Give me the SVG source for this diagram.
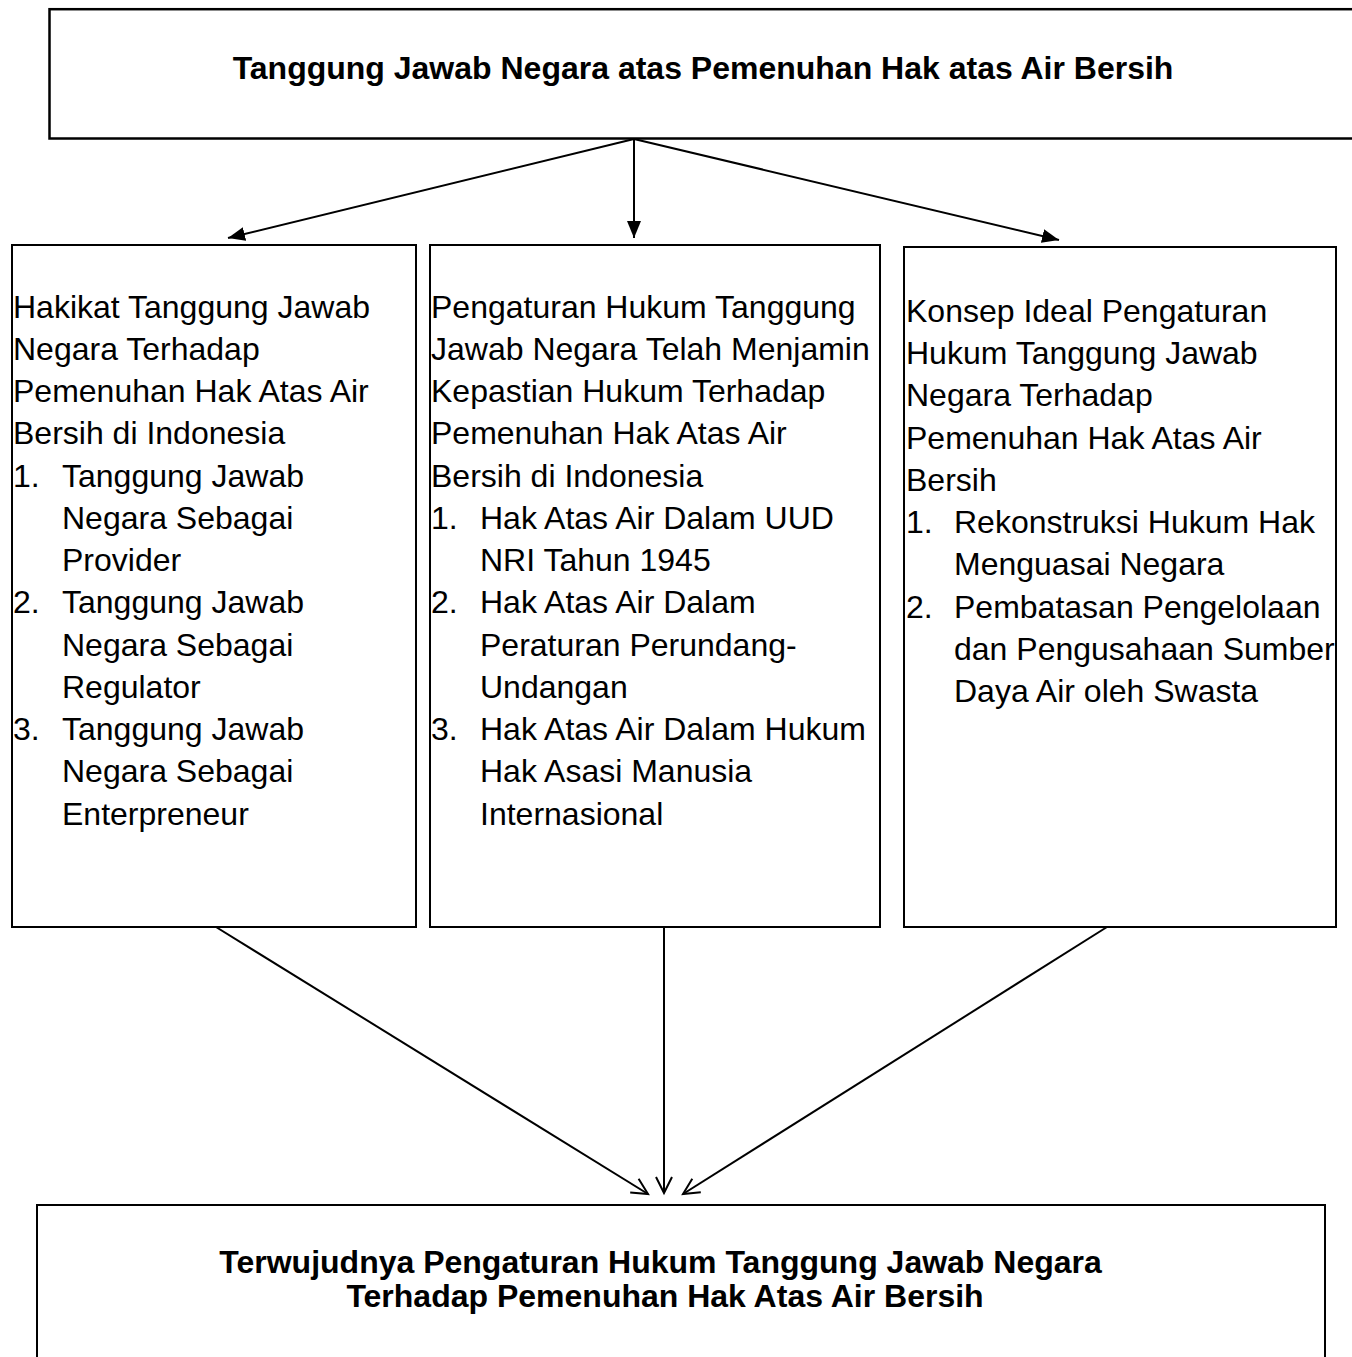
<svg xmlns="http://www.w3.org/2000/svg" width="1352" height="1357" viewBox="0 0 1352 1357">
<style>
.box{fill:#fff;stroke:#000;stroke-width:2}
.txt{font-family:"Liberation Sans",Arial,sans-serif;font-size:32px;fill:#000}
.b{font-weight:bold}
.con{stroke:#000;stroke-width:2;fill:none}
</style>
<defs>
<marker id="fa" markerUnits="userSpaceOnUse" markerWidth="18" markerHeight="14" refX="17" refY="7" orient="auto">
<path d="M0,0 L17,7 L0,14 z" fill="#000"/>
</marker>
<marker id="oa" markerUnits="userSpaceOnUse" markerWidth="20" markerHeight="20" refX="17" refY="9" orient="auto">
<path d="M1,1 L17,9 L1,17" fill="none" stroke="#000" stroke-width="2"/>
</marker>
</defs>
<rect width="1352" height="1357" fill="#fff"/>
<g id="connectors">
<line class="con" x1="634" y1="139" x2="228" y2="238" marker-end="url(#fa)"/>
<line class="con" x1="634" y1="139" x2="634" y2="238" marker-end="url(#fa)"/>
<line class="con" x1="634" y1="139" x2="1059" y2="240" marker-end="url(#fa)"/>
<line class="con" x1="216" y1="927" x2="648" y2="1194" marker-end="url(#oa)"/>
<line class="con" x1="664" y1="927" x2="664" y2="1193" marker-end="url(#oa)"/>
<line class="con" x1="1107" y1="927" x2="683" y2="1194" marker-end="url(#oa)"/>
</g>
<g id="top">
<rect class="box" x="49.5" y="9.2" width="1320" height="129.3" style="stroke-width:2.5"/>
<text class="txt b" x="703" y="79" text-anchor="middle">Tanggung Jawab Negara atas Pemenuhan Hak atas Air Bersih</text>
</g>
<g id="left">
<rect class="box" x="12" y="245" width="404" height="682"/>
<text class="txt">
<tspan x="13" y="318">Hakikat Tanggung Jawab</tspan>
<tspan x="13" y="360">Negara Terhadap</tspan>
<tspan x="13" y="402">Pemenuhan Hak Atas Air</tspan>
<tspan x="13" y="444">Bersih di Indonesia</tspan>
<tspan x="13" y="487">1.</tspan><tspan x="62" y="487">Tanggung Jawab</tspan>
<tspan x="62" y="529">Negara Sebagai</tspan>
<tspan x="62" y="571">Provider</tspan>
<tspan x="13" y="613">2.</tspan><tspan x="62" y="613">Tanggung Jawab</tspan>
<tspan x="62" y="656">Negara Sebagai</tspan>
<tspan x="62" y="698">Regulator</tspan>
<tspan x="13" y="740">3.</tspan><tspan x="62" y="740">Tanggung Jawab</tspan>
<tspan x="62" y="782">Negara Sebagai</tspan>
<tspan x="62" y="825">Enterpreneur</tspan>
</text>
</g>
<g id="middle">
<rect class="box" x="430" y="245" width="450" height="682"/>
<text class="txt">
<tspan x="431" y="318">Pengaturan Hukum Tanggung</tspan>
<tspan x="431" y="360">Jawab Negara Telah Menjamin</tspan>
<tspan x="431" y="402">Kepastian Hukum Terhadap</tspan>
<tspan x="431" y="444">Pemenuhan Hak Atas Air</tspan>
<tspan x="431" y="487">Bersih di Indonesia</tspan>
<tspan x="431" y="529">1.</tspan><tspan x="480" y="529">Hak Atas Air Dalam UUD</tspan>
<tspan x="480" y="571">NRI Tahun 1945</tspan>
<tspan x="431" y="613">2.</tspan><tspan x="480" y="613">Hak Atas Air Dalam</tspan>
<tspan x="480" y="656">Peraturan Perundang-</tspan>
<tspan x="480" y="698">Undangan</tspan>
<tspan x="431" y="740">3.</tspan><tspan x="480" y="740">Hak Atas Air Dalam Hukum</tspan>
<tspan x="480" y="782">Hak Asasi Manusia</tspan>
<tspan x="480" y="825">Internasional</tspan>
</text>
</g>
<g id="right">
<rect class="box" x="904" y="247" width="432" height="680"/>
<text class="txt">
<tspan x="906" y="322">Konsep Ideal Pengaturan</tspan>
<tspan x="906" y="364">Hukum Tanggung Jawab</tspan>
<tspan x="906" y="406">Negara Terhadap</tspan>
<tspan x="906" y="449">Pemenuhan Hak Atas Air</tspan>
<tspan x="906" y="491">Bersih</tspan>
<tspan x="906" y="533">1.</tspan><tspan x="954" y="533">Rekonstruksi Hukum Hak</tspan>
<tspan x="954" y="575">Menguasai Negara</tspan>
<tspan x="906" y="618">2.</tspan><tspan x="954" y="618">Pembatasan Pengelolaan</tspan>
<tspan x="954" y="660">dan Pengusahaan Sumber</tspan>
<tspan x="954" y="702">Daya Air oleh Swasta</tspan>
</text>
</g>
<g id="bottom">
<rect class="box" x="37" y="1205" width="1288" height="200"/>
<text class="txt b" text-anchor="middle">
<tspan x="665" y="1273">Terwujudnya Pengaturan Hukum Tanggung Jawab Negara</tspan>
<tspan x="665" y="1307">Terhadap Pemenuhan Hak Atas Air Bersih</tspan>
</text>
</g>
</svg>
